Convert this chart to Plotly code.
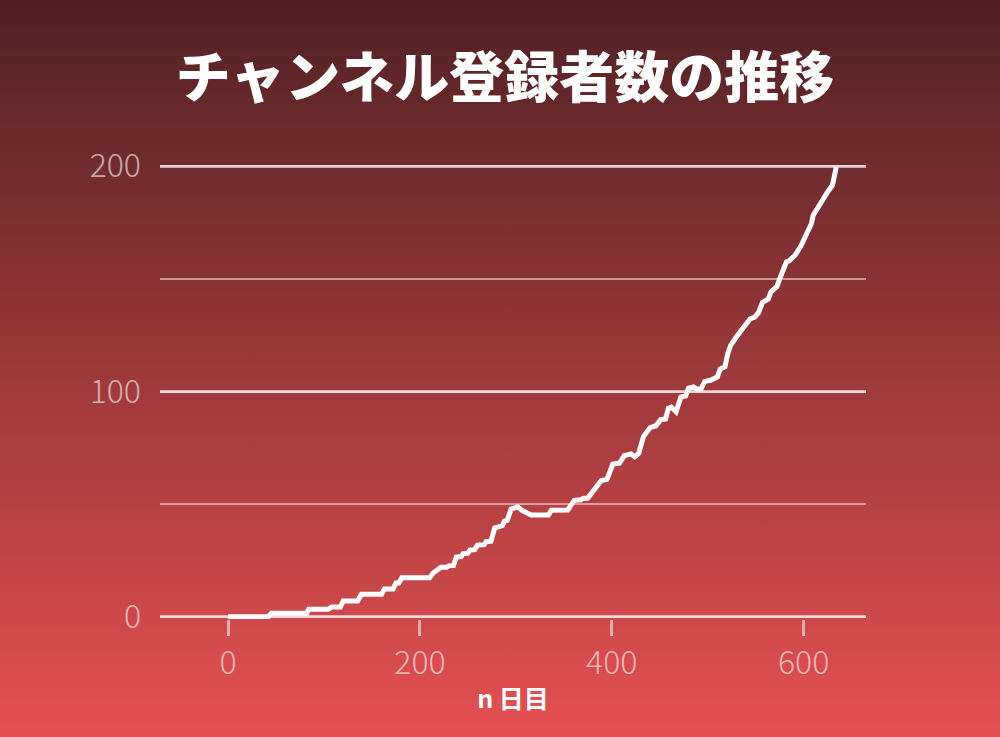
import base64
import plotly.graph_objects as go

# ---- data ----
days = [0, 42, 45, 82, 84, 104, 108, 117, 120, 135, 139, 160, 163, 172, 175, 178, 181, 210,
        214, 218, 222, 228, 230, 235, 238, 243, 245, 250, 252, 257, 260, 267, 269, 274, 278,
        281, 283, 286, 288, 291, 295, 299, 302, 306, 310, 316, 334, 337, 354, 358, 361, 368,
        370, 375, 379, 384, 389, 395, 398, 401, 408, 413, 420, 424, 428, 431, 433, 440, 446,
        451, 456, 459, 462, 467, 472, 477, 480, 485, 489, 493, 497, 503, 506, 510, 513, 518,
        521, 524, 530, 536, 544, 549, 553, 557, 563, 566, 572, 575, 577, 582, 585, 591, 597,
        601, 606, 608, 610, 615, 620, 625, 630, 632, 634]
subscribers = [0, 0, 1.5, 1.5, 3.3, 3.3, 4.3, 4.3, 7, 7, 10, 10, 12.3, 12.3, 15, 15, 17.3, 17.3,
               19.5, 20.5, 22, 22, 22.6, 22.8, 26.5, 26.7, 28, 28.2, 29.6, 29.8, 31.8, 32, 33.3, 33.5, 39.5,
               39.8, 40.3, 40.5, 42.5, 42.8, 47.8, 48.3, 48.8, 47.3, 46.2, 45.2, 45.2, 47.3, 47.4, 49.5, 51.7, 51.9,
               52.5, 52.7, 55, 57, 60.5, 61, 64, 67.8, 68.2, 71.5, 72.3, 71, 72.5, 77, 80, 84, 84.8,
               87.5, 87.8, 92.5, 93, 91, 97.5, 98, 101.5, 102, 101, 101.2, 104.5, 105, 105.8, 106.5, 110, 111,
               117, 120.6, 124.3, 128, 132.2, 133, 135, 139.5, 141, 144.3, 146.5, 150, 152.4, 157.5, 158, 160.5, 164.5,
               168.6, 172.4, 174.5, 178.3, 182, 185.7, 188.6, 191.6, 196, 199.7]

x_ticks = [0, 200, 400, 600]
y_ticks = [0, 100, 200]

title_text = "チャンネル登録者数の推移"
x_title = "n 日目"

# ---- layout geometry ----
W, H = 1000, 737
ML, MR, MT, MB = 160, 134, 164, 118
PW, PH = W - ML - MR, H - MT - MB

svg = (
    f'<svg xmlns="http://www.w3.org/2000/svg" width="{W}" height="{H}" '
    f'viewBox="0 0 {W} {H}" preserveAspectRatio="none">'
    '<defs><linearGradient id="g" x1="0" y1="0" x2="0" y2="1">'
    '<stop offset="0" stop-color="#502124"/>'
    '<stop offset="1" stop-color="#e65052"/>'
    '</linearGradient></defs>'
    f'<rect x="0" y="0" width="{W}" height="{H}" fill="url(#g)"/></svg>'
)
bg_src = "data:image/svg+xml;base64," + base64.b64encode(svg.encode()).decode()

FONT = "Noto Sans CJK JP"

fig = go.Figure()
fig.add_trace(go.Scatter(
    x=days, y=subscribers, mode="lines",
    line=dict(color="white", width=5),
    cliponaxis=False, hoverinfo="skip", showlegend=False,
))

fig.update_layout(
    width=W, height=H,
    margin=dict(l=ML, r=MR, t=MT, b=MB),
    paper_bgcolor="#9a383b",
    plot_bgcolor="rgba(0,0,0,0)",
    images=[dict(
        source=bg_src, xref="paper", yref="paper",
        x=-ML / PW, y=1 + MT / PH, sizex=W / PW, sizey=H / PH,
        xanchor="left", yanchor="top", sizing="stretch", layer="below",
    )],
    title=dict(
        text=title_text, x=0.505, xref="container", xanchor="center",
        y=1 - 78 / H, yref="container", yanchor="middle",
        font=dict(family=FONT, size=55, color="white", weight=900),
    ),
    xaxis=dict(
        range=[-71, 665], tickvals=x_ticks, ticktext=[str(v) for v in x_ticks],
        showgrid=False, zeroline=False, showline=False,
        ticks="outside", ticklen=16, tickwidth=3, tickcolor="rgba(255,255,255,0.55)",
        tickfont=dict(family=FONT, size=32, color="rgba(255,255,255,0.6)", weight=300),
        title=dict(text=x_title, standoff=8,
                   font=dict(family=FONT, size=25, color="white", weight=700)),
    ),
    yaxis=dict(
        range=[-1, 201], tickvals=y_ticks, ticktext=[str(v) for v in y_ticks],
        showgrid=True, gridcolor="rgba(255,255,255,0.6)", gridwidth=3,
        minor=dict(dtick=50, tick0=0, showgrid=True, gridcolor="rgba(255,255,255,0.5)", gridwidth=2),
        zeroline=False, showline=False, ticks="",
        ticklabelstandoff=18,
        tickfont=dict(family=FONT, size=32, color="rgba(255,255,255,0.6)", weight=300),
    ),
)

fig.write_html(
    "out.html",
    config={"displayModeBar": False},
    post_script="document.body.style.margin='0';",
)
